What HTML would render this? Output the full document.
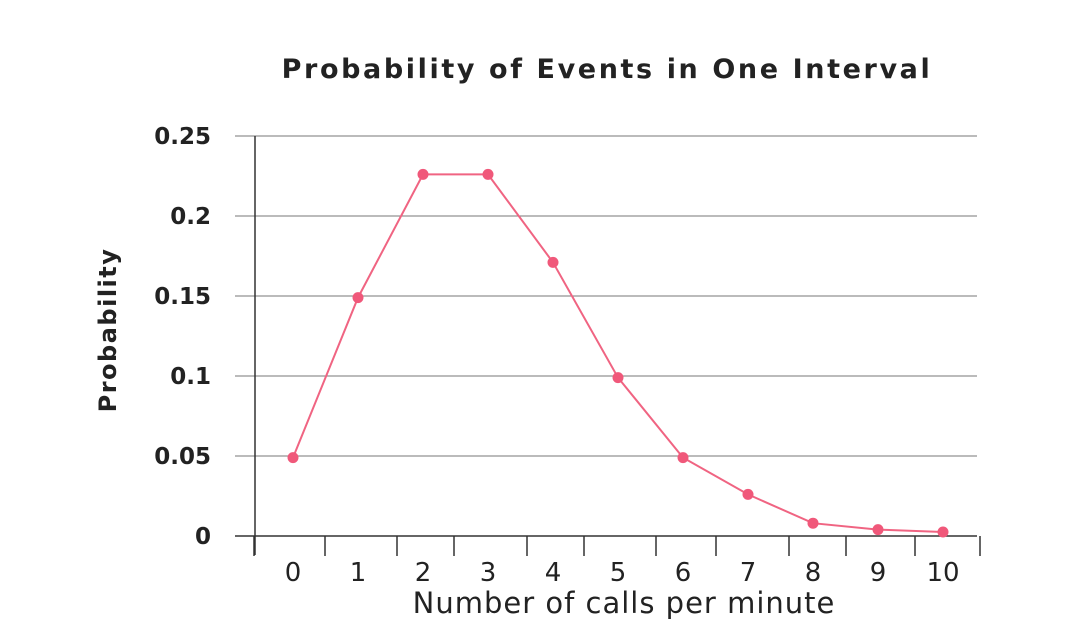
<!DOCTYPE html>
<html><head><meta charset="utf-8"><style>
body{margin:0;background:#fff;width:1081px;height:628px;overflow:hidden}
svg{display:block}
text{font-family:"DejaVu Sans","Liberation Sans",sans-serif;fill:#222}
</style></head><body>
<svg id="chart" width="1081" height="628">
<text x="607" y="78" text-anchor="middle" font-size="27" font-weight="bold" letter-spacing="2.6">Probability of Events in One Interval</text>
<text transform="translate(116,330) rotate(-90)" text-anchor="middle" font-size="24" font-weight="bold" letter-spacing="1.5">Probability</text>
<text x="624" y="613" text-anchor="middle" font-size="29" letter-spacing="1">Number of calls per minute</text>
<g id="grid"></g><g id="ticks"></g><g id="series"></g>
</svg>
<script>
const categories=["0","1","2","3","4","5","6","7","8","9","10"];
const probs=[0.049,0.149,0.226,0.226,0.171,0.099,0.049,0.026,0.008,0.004,0.0025];
const yTicks=[0,0.05,0.1,0.15,0.2,0.25];
const yTickLabels=["0","0.05","0.1","0.15","0.2","0.25"];
const NS="http://www.w3.org/2000/svg";
function y(v){return 536-v*1600;}
function x(i){return 293+i*65;}
function mk(t,a,p){const e=document.createElementNS(NS,t);for(const k in a)e.setAttribute(k,a[k]);p.appendChild(e);return e;}
const grid=document.getElementById('grid');
yTicks.forEach((v,i)=>{
 const l=mk('line',{x1:235,x2:977,y1:y(v),y2:y(v),stroke:i==0?'#333':'#777','stroke-width':i==0?1.5:1},grid);
 
 
 const t=mk('text',{x:211,y:y(v)+8,'text-anchor':'end','font-size':23,'font-weight':'bold'},grid);
 t.textContent=yTickLabels[i];
 
 
});
const ax=mk('line',{x1:255,x2:255,y1:136,y2:555,stroke:'#333','stroke-width':1.5},grid);


const tk=document.getElementById('ticks');
[254,325,397,454,527,584,656,716,789,846,915,980].forEach(px=>{
 const l=mk('line',{x1:px,x2:px,y1:536,y2:556,stroke:'#333','stroke-width':1.5},tk);
 
 
});
categories.forEach((c,i)=>{
 const t=mk('text',{x:x(i),y:581,'text-anchor':'middle','font-size':26},tk);
 t.textContent=c;
 
 
});
const s=document.getElementById('series');
const pl=mk('polyline',{points:probs.map((v,i)=>x(i)+','+y(v)).join(' '),fill:'none',stroke:'#f06482','stroke-width':2},s);


probs.forEach((v,i)=>{
 const c=mk('circle',{cx:x(i),cy:y(v),r:5.5,fill:'#f0587a'},s);
 
 
});
</script>
</body></html>
